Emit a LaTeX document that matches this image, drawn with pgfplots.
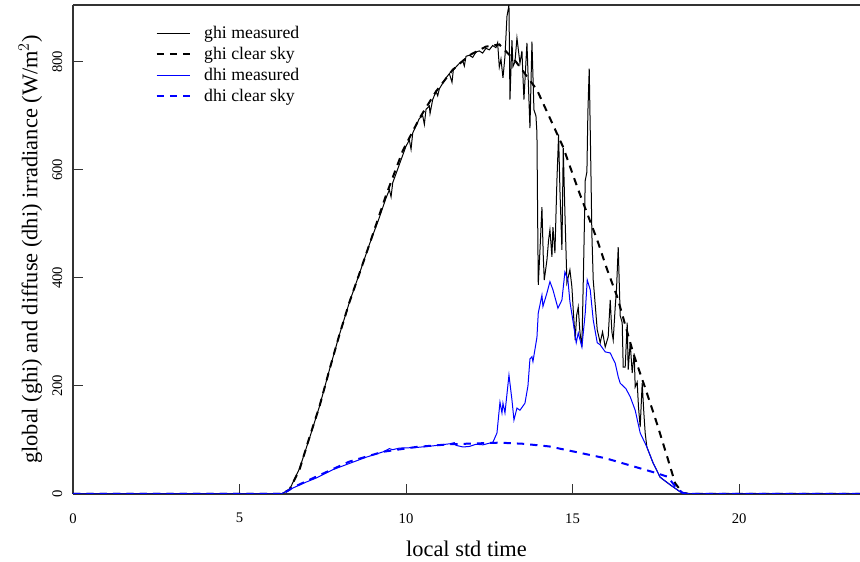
\documentclass[border=0pt]{standalone}
\usepackage{fontspec}
\setmainfont{Liberation Serif}
\usepackage{pgfplots}
\pgfplotsset{compat=1.18}
\usetikzlibrary{calc}

\begin{document}
\begin{tikzpicture}
\begin{axis}[
    name=ax,
    scale only axis,
    width=590.25pt, height=366.75pt,
    xmin=0, xmax=23.63, ymin=0, ymax=905,
    axis x line*=box, axis y line*=left,
    axis line style={black!80, line width=0.8pt},
    xtick={0,5,10,15,20}, ytick={0,200,400,600,800},
    xtick pos=left, ytick pos=left,
    tick align=inside, major tick length=7.5pt,
    tick style={black!80, line width=0.8pt},
    /pgf/number format/assume math mode=true,
    tick label style={font=\fontsize{11}{13}\selectfont},
    yticklabel style={rotate=90, anchor=south, yshift=4.5pt},
    xticklabel style={yshift=-11pt},
    xlabel={local std time},
    ylabel={global (ghi) and diffuse (dhi) irradiance (W/m$^{2}$)},
    label style={font=\fontsize{16.8}{19}\selectfont},
    xlabel style={at={(axis description cs:0.5,0)}, anchor=center, yshift=-41pt},
    ylabel style={at={(axis description cs:-0.0542,0.5)}, anchor=center},
    legend image code/.code={\draw[#1] (0pt,0pt) -- (25pt,0pt); \path (33pt,0pt);},
    legend style={draw=none, fill=none, at={(axis description cs:0.0995,0.968)}, anchor=north west,
        font=\fontsize{13.3}{15.75}\selectfont, row sep=1pt, cells={anchor=west}},
    legend cell align=left,
]
% ghi measured
\addplot[black, line width=0.75pt] coordinates {
(0,0) (6.25,0) (6.5,8) (6.8,47) (7.1,103) (7.4,162) (7.7,230) (8.0,295) (8.3,355) (8.6,408)
(8.9,462) (9.2,512) (9.4,548) (9.5,563) (9.55,550) (9.6,576) (9.8,610) (9.9,627) (10.0,644)
(10.1,655) (10.15,638) (10.2,668) (10.4,695) (10.5,700) (10.55,684) (10.6,712) (10.7,718)
(10.72,704) (10.8,730) (10.9,745) (10.95,737) (11.0,750) (11.2,770) (11.3,778) (11.38,762)
(11.42,785) (11.6,797) (11.7,802) (11.75,792) (11.8,810) (11.9,812) (12.0,808) (12.1,818)
(12.2,820) (12.3,816) (12.4,825) (12.5,822) (12.6,830) (12.7,826) (12.75,835) (12.8,790)
(12.85,805) (12.91,770) (12.97,810) (13.03,884) (13.09,905) (13.12,730) (13.18,840) (13.21,791)
(13.27,800) (13.33,844) (13.42,797) (13.48,820) (13.51,772) (13.54,730) (13.63,835) (13.72,677)
(13.78,837) (13.84,711) (13.9,700) (13.93,668) (13.95,520) (13.97,387) (14.02,450) (14.08,531)
(14.12,440) (14.15,396) (14.23,433) (14.28,470) (14.32,489) (14.38,439) (14.41,494) (14.47,446)
(14.53,581) (14.58,665) (14.62,563) (14.68,452) (14.72,640) (14.77,520) (14.83,391) (14.92,415)
(14.98,383) (15.02,340) (15.08,285) (15.12,330) (15.17,346) (15.22,300) (15.28,272) (15.33,420)
(15.38,580) (15.43,596) (15.46,708) (15.5,787) (15.55,600) (15.58,480) (15.62,396) (15.68,350)
(15.74,304) (15.83,280) (15.9,300) (15.98,272) (16.07,291) (16.13,359) (16.18,300) (16.22,285)
(16.28,346) (16.32,380) (16.37,457) (16.43,330) (16.49,317) (16.52,235) (16.58,235) (16.64,317)
(16.67,230) (16.73,280) (16.79,224) (16.85,260) (16.88,198) (16.94,207) (16.98,160) (17.03,124)
(17.09,205) (17.14,150) (17.18,113) (17.23,87) (17.42,57) (17.63,31) (17.93,17) (18.23,4)
(18.53,0) (23.63,0)
};
% ghi clear sky
\addplot[black, line width=1.5pt, dash pattern=on 5.5pt off 4.5pt] coordinates {
(0,0) (6.25,0) (6.5,8) (6.8,45) (7.1,105) (7.4,162) (7.7,230) (8.0,295) (8.3,355) (8.6,408)
(8.9,462) (9.4,553) (9.9,635) (10.4,695) (10.9,745) (11.4,785) (11.9,812) (12.4,828) (12.8,832)
(13.3,800) (13.93,748) (14.71,643) (15.17,563) (15.74,470) (16.04,415) (16.34,365) (16.82,261)
(17.23,187) (17.53,131) (17.84,69) (18.08,20) (18.3,2) (18.5,0) (23.63,0)
};
% dhi measured
\addplot[blue, line width=0.75pt] coordinates {
(0,0) (6.25,0) (6.6,11) (7.0,22) (7.32,30) (7.8,45) (8.32,57) (8.8,68) (9.31,78) (9.5,84)
(9.6,82) (9.8,85) (10.3,86) (10.8,89) (11.32,93) (11.45,95) (11.5,90) (11.71,87) (11.9,88)
(12.1,92) (12.31,91) (12.5,94) (12.61,96) (12.73,113) (12.82,170) (12.88,150) (12.91,168)
(12.97,150) (13.09,220) (13.18,174) (13.24,137) (13.33,159) (13.42,155) (13.57,168) (13.66,200)
(13.72,250) (13.78,254) (13.81,245) (13.93,290) (13.97,335) (14.08,368) (14.11,347) (14.23,372)
(14.32,393) (14.41,378) (14.56,344) (14.68,359) (14.77,411) (14.86,396) (14.92,356) (15.02,317)
(15.11,280) (15.17,298) (15.28,272) (15.38,335) (15.44,396) (15.53,378) (15.62,322) (15.74,280)
(15.83,276) (15.98,263) (16.13,261) (16.28,242) (16.37,217) (16.43,205) (16.6,195) (16.73,180)
(16.88,155) (17.03,113) (17.23,87) (17.42,57) (17.63,31) (17.93,17) (18.23,4) (18.53,0) (23.63,0)
};
% dhi clear sky
\addplot[blue, line width=1.5pt, dash pattern=on 5.5pt off 4.5pt] coordinates {
(0,0) (6.3,0) (6.6,12) (7.3,32) (8.3,60) (9.3,78) (10.3,87) (11.3,92) (12.3,94) (12.8,95)
(13.5,93) (14.3,88) (15.0,79) (16.0,66) (17.0,48) (17.5,39) (17.85,32) (18.1,13) (18.3,2)
(18.5,0) (23.63,0)
};
\legend{ghi measured, ghi clear sky, dhi measured, dhi clear sky}
\end{axis}
\pgfresetboundingbox
\path ($(ax.south west)+(-54.75pt,-51pt)$) rectangle ($(ax.north east)+(0pt,3.75pt)$);
\end{tikzpicture}
\end{document}
